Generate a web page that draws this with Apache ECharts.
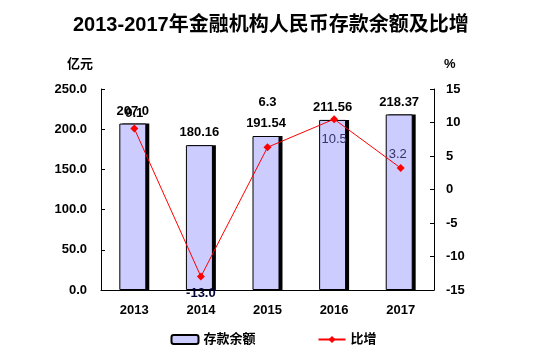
<!DOCTYPE html>
<html>
<head>
<meta charset="utf-8">
<script src="https://cdn.jsdelivr.net/npm/echarts@6/dist/echarts.min.js"></script>
<style>html,body{margin:0;padding:0;background:#fff;}#c{width:547px;height:356px;}</style>
</head>
<body>
<div id="c"></div>
<script>
const categories = ['2013', '2014', '2015', '2016', '2017'];
const deposits = [207.0, 180.16, 191.54, 211.56, 218.37];
const growth = [9.1, -13.0, 6.3, 10.5, 3.2];
const leftTicks = { min: 0, max: 250, interval: 50 };
const rightTicks = { min: -15, max: 15, interval: 5 };

const FONT = '"Liberation Sans", Arial, "Noto Sans CJK SC", sans-serif';
const growthLabels = [
  { position: 'top', distance: 5, color: '#000', fontWeight: 'bold' },
  { position: 'bottom', distance: 6, color: '#000033', fontWeight: 'bold' },
  { position: 'top', distance: 34, color: '#000', fontWeight: 'bold' },
  { position: 'bottom', distance: 10, color: '#333366', fontWeight: 'normal' },
  { position: 'top', distance: 3, color: '#333366', fontWeight: 'normal', offset: [-3, 0] }
];

const chart = echarts.init(document.getElementById('c'), null, { renderer: 'canvas' });
chart.setOption({
  animation: false,
  backgroundColor: '#fff',
  textStyle: { fontFamily: FONT },
  title: {
    text: '2013-2017年金融机构人民币存款余额及比增',
    left: 68, top: 10,
    textStyle: { fontSize: 20, fontWeight: 'bold', color: '#000', fontFamily: FONT }
  },
  legend: {
    bottom: 5, left: 'center',
    itemWidth: 27, itemHeight: 9, itemGap: 62,
    textStyle: { fontSize: 13, fontWeight: 'bold', color: '#000', fontFamily: FONT },
    data: [
      { name: '存款余额' },
      { name: '比增' }
    ]
  },
  grid: { left: 101, right: 113, top: 89, bottom: 66 },
  xAxis: {
    type: 'category',
    data: categories,
    axisLine: { lineStyle: { color: '#000', width: 1 } },
    axisTick: { inside: true, length: 4, lineStyle: { color: '#000' } },
    axisLabel: { margin: 14, fontSize: 13, fontWeight: 'bold', color: '#000' }
  },
  yAxis: [
    {
      type: 'value', min: leftTicks.min, max: leftTicks.max, interval: leftTicks.interval,
      name: '亿元', nameLocation: 'end', nameGap: 18,
      nameTextStyle: { fontSize: 13, fontWeight: 'bold', color: '#000', align: 'right', padding: [0, 8, 0, 0] },
      axisLine: { show: true, lineStyle: { color: '#000' } },
      axisTick: { show: true, inside: true, length: 4, lineStyle: { color: '#000' } },
      splitLine: { show: false },
      axisLabel: { margin: 14, fontSize: 13, fontWeight: 'bold', color: '#000', formatter: v => v.toFixed(1) }
    },
    {
      type: 'value', min: rightTicks.min, max: rightTicks.max, interval: rightTicks.interval,
      name: '%', nameLocation: 'end', nameGap: 18,
      nameTextStyle: { fontSize: 13, fontWeight: 'bold', color: '#000', align: 'left', padding: [0, 0, 0, 10] },
      axisLine: { show: true, lineStyle: { color: '#000' } },
      axisTick: { show: true, inside: true, length: 4, lineStyle: { color: '#000' } },
      splitLine: { show: false },
      axisLabel: { margin: 12, fontSize: 13, fontWeight: 'bold', color: '#000' }
    }
  ],
  series: [
    {
      name: '存款余额', type: 'bar', yAxisIndex: 0, barWidth: 27, z: 3,
      barGap: '-89%',
      data: deposits,
      itemStyle: { color: '#CCCCFF', borderColor: '#000', borderWidth: 1 },
      label: { show: true, position: 'top', distance: 6, fontSize: 13, fontWeight: 'bold', color: '#000', formatter: p => p.value === 207 ? '207.0' : String(p.value) }
    },
    {
      name: '阴影', type: 'bar', yAxisIndex: 0, barWidth: 27, z: 2,
      barGap: '-89%',
      data: deposits,
      silent: true,
      itemStyle: { color: '#000' },
      label: { show: false }
    },
    {
      name: '比增', type: 'line', yAxisIndex: 1, z: 5,
      data: growth.map((v, i) => ({ value: v, label: Object.assign({ show: true, fontSize: 13 }, growthLabels[i]) })),
      symbol: 'diamond', symbolSize: 8,
      lineStyle: { color: '#FF0000', width: 1 },
      itemStyle: { color: '#FF0000' },
      label: { show: true, formatter: p => p.value.toFixed(1) }
    }
  ]
});
</script>
</body>
</html>
